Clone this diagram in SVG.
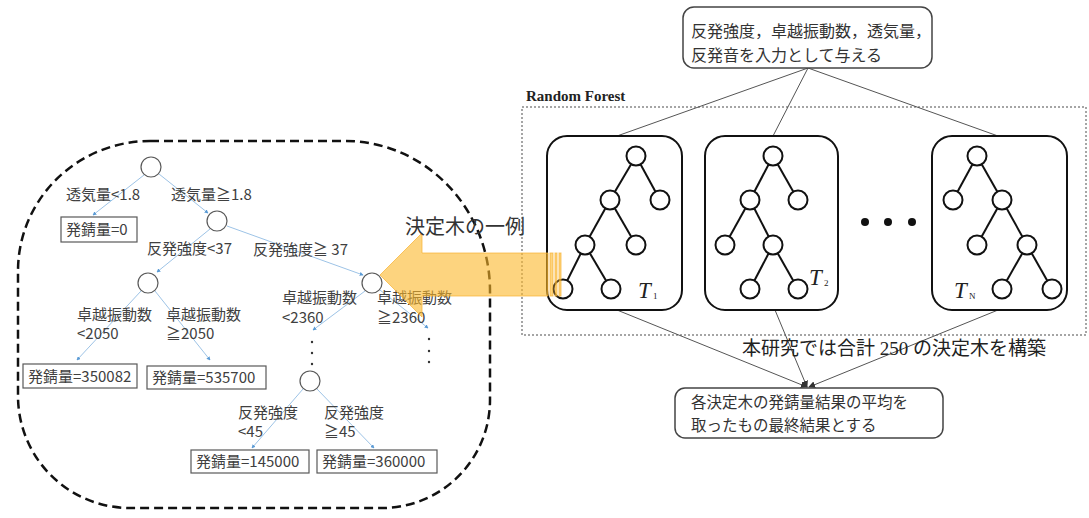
<svg xmlns="http://www.w3.org/2000/svg" width="1089" height="518" viewBox="0 0 1089 518">
<style>
.lt{font-family:"Noto Sans CJK JP","Noto Sans",sans-serif;font-size:15px;fill:#404040}
.rt{font-family:"Noto Sans CJK JP","Noto Sans",sans-serif;font-size:16px;fill:#333}
.be{stroke:#9DC3E6;stroke-width:1;fill:none;marker-end:url(#ba)}
.ln{fill:#fff;stroke:#595959;stroke-width:1.2}
.lb{fill:#fff;stroke:#595959;stroke-width:1.2}
.tc{fill:#fff;stroke:#111;stroke-width:2}
.te{stroke:#111;stroke-width:2}
.tb{fill:#fff;stroke:#111;stroke-width:2}
.cn{stroke:#555;stroke-width:1;fill:none}
.ti{font-family:"Liberation Serif",serif;font-style:italic;font-size:23px;fill:#222}
.ts{font-family:"Liberation Serif",serif;font-size:9px;fill:#222}
</style>
<defs>
<marker id="ba" viewBox="0 0 6 6" refX="5" refY="3" markerWidth="4" markerHeight="4" orient="auto"><path d="M0,0 L6,3 L0,6 Z" fill="#5B9BD5"/></marker>
<marker id="ka" viewBox="0 0 8 8" refX="7" refY="4" markerWidth="7" markerHeight="7" orient="auto"><path d="M0,0 L8,4 L0,8 Z" fill="#333"/></marker>
</defs>

<!-- dashed boundary of example tree -->
<path id="boundary" d="M150 141 H345 A145 150 0 0 1 490 291 V400 A108 108 0 0 1 382 508 H130 A112 112 0 0 1 18 396 V271 A132 130 0 0 1 150 141 Z" fill="none" stroke="#111" stroke-width="2.5" stroke-dasharray="9 5"/>

<!-- right: random forest frame -->
<g id="rf-frame">
<rect x="522" y="107" width="564" height="228" fill="none" stroke="#888" stroke-width="1.5" stroke-dasharray="2 2"/>
<text x="526" y="101" font-family="Liberation Serif,serif" font-size="15" font-weight="bold" fill="#222">Random Forest</text>
</g>

<g id="connectors">
<!-- left example tree edges -->
<line class="be" x1="144" y1="175" x2="93" y2="215"/>
<line class="be" x1="159" y1="174" x2="208" y2="213"/>
<line class="be" x1="210" y1="229" x2="157" y2="272"/>
<line class="be" x1="227" y1="226" x2="363" y2="275"/>
<line class="be" x1="141" y1="291" x2="77" y2="360"/>
<line class="be" x1="155" y1="291" x2="210" y2="360"/>
<line class="be" x1="365" y1="291" x2="313" y2="330"/>
<line class="be" x1="380" y1="290" x2="428" y2="328"/>
<line class="be" x1="303" y1="389" x2="252" y2="448"/>
<line class="be" x1="317" y1="389" x2="374" y2="448"/>
<!-- right side -->
<line class="cn" x1="808" y1="68" x2="617" y2="136"/>
<line class="cn" x1="808" y1="68" x2="773" y2="136"/>
<line class="cn" x1="808" y1="68" x2="998" y2="136"/>
<line class="cn" x1="617" y1="310" x2="807" y2="387" marker-end="url(#ka)"/>
<line class="cn" x1="775" y1="310" x2="807" y2="387" marker-end="url(#ka)"/>
<line class="cn" x1="998" y1="310" x2="809" y2="387" marker-end="url(#ka)"/>
</g>

<!-- dots for continuation -->
<g id="cont-dots" fill="#333">
<circle cx="312" cy="342" r="1.2"/><circle cx="312" cy="353" r="1.2"/><circle cx="312" cy="364" r="1.2"/>
<circle cx="429" cy="339" r="1.2"/><circle cx="429" cy="351" r="1.2"/><circle cx="429" cy="362" r="1.2"/>
</g>

<!-- left tree nodes -->
<g id="n-root"><circle class="ln" cx="151" cy="167" r="10"/></g>
<g id="n-2"><circle class="ln" cx="217" cy="221" r="10"/></g>
<g id="n-3"><circle class="ln" cx="148" cy="283" r="10"/></g>
<g id="n-4"><circle class="ln" cx="372" cy="283" r="10"/></g>
<g id="n-5"><circle class="ln" cx="310" cy="381" r="10"/></g>

<g id="leaf-0"><rect class="lb" x="61" y="217" width="76" height="25"/><text class="lt" x="66" y="235">発錆量=0</text></g>
<g id="leaf-350082"><rect class="lb" x="23" y="364" width="114" height="24"/><text class="lt" x="28" y="382">発錆量=350082</text></g>
<g id="leaf-535700"><rect class="lb" x="147" y="366" width="119" height="23"/><text class="lt" x="152" y="383">発錆量=535700</text></g>
<g id="leaf-145000"><rect class="lb" x="191" y="450" width="118" height="23"/><text class="lt" x="196" y="467">発錆量=145000</text></g>
<g id="leaf-360000"><rect class="lb" x="317" y="450" width="120" height="23"/><text class="lt" x="322" y="467">発錆量=360000</text></g>

<g id="edge-labels">
<text class="lt" x="66" y="200">透気量&lt;1.8</text>
<text class="lt" x="171" y="200">透気量≧1.8</text>
<text class="lt" x="147" y="254">反発強度&lt;37</text>
<text class="lt" x="253" y="255">反発強度≧ 37</text>
<text class="lt" x="77" y="320">卓越振動数</text>
<text class="lt" x="77" y="339">&lt;2050</text>
<text class="lt" x="166" y="320">卓越振動数</text>
<text class="lt" x="166" y="339">≧2050</text>
<text class="lt" x="282" y="303">卓越振動数</text>
<text class="lt" x="282" y="323">&lt;2360</text>
<text class="lt" x="377" y="303">卓越振動数</text>
<text class="lt" x="377" y="323">≧2360</text>
<text class="lt" x="238" y="418">反発強度</text>
<text class="lt" x="238" y="437">&lt;45</text>
<text class="lt" x="324" y="418">反発強度</text>
<text class="lt" x="324" y="437">≧45</text>
</g>

<!-- top input box -->
<g id="input-box">
<rect x="683" y="7" width="249" height="61" rx="11" fill="#fff" stroke="#444" stroke-width="1.5"/>
<text class="rt" x="691" y="37">反発強度，卓越振動数，透気量，</text>
<text class="rt" x="691" y="61">反発音を入力として与える</text>
</g>

<!-- T1 -->
<g id="tree-T1">
<rect class="tb" x="547" y="136" width="135" height="174" rx="20"/>
<line class="te" x1="636" y1="156" x2="610" y2="200"/><line class="te" x1="636" y1="156" x2="660" y2="200"/>
<line class="te" x1="610" y1="200" x2="585" y2="245"/><line class="te" x1="610" y1="200" x2="636" y2="245"/>
<line class="te" x1="585" y1="245" x2="563" y2="289"/><line class="te" x1="585" y1="245" x2="611" y2="289"/>
<circle class="tc" cx="636" cy="156" r="9.5"/><circle class="tc" cx="610" cy="200" r="9.5"/><circle class="tc" cx="660" cy="200" r="9.5"/>
<circle class="tc" cx="585" cy="245" r="9.5"/><circle class="tc" cx="636" cy="245" r="9.5"/>
<circle class="tc" cx="563" cy="289" r="9.5"/><circle class="tc" cx="611" cy="289" r="9.5"/>
<text class="ti" x="638" y="298">T</text><text class="ts" x="653" y="299">1</text>
</g>

<!-- T2 -->
<g id="tree-T2">
<rect class="tb" x="705" y="136" width="133" height="174" rx="20"/>
<line class="te" x1="773" y1="156" x2="750" y2="200"/><line class="te" x1="773" y1="156" x2="798" y2="200"/>
<line class="te" x1="750" y1="200" x2="725" y2="245"/><line class="te" x1="750" y1="200" x2="773" y2="245"/>
<line class="te" x1="773" y1="245" x2="750" y2="289"/><line class="te" x1="773" y1="245" x2="798" y2="289"/>
<circle class="tc" cx="773" cy="156" r="9.5"/><circle class="tc" cx="750" cy="200" r="9.5"/><circle class="tc" cx="798" cy="200" r="9.5"/>
<circle class="tc" cx="725" cy="245" r="9.5"/><circle class="tc" cx="773" cy="245" r="9.5"/>
<circle class="tc" cx="750" cy="289" r="9.5"/><circle class="tc" cx="798" cy="289" r="9.5"/>
<text class="ti" x="809" y="285">T</text><text class="ts" x="824" y="286">2</text>
</g>

<g id="ellipsis" fill="#111">
<circle cx="865" cy="222" r="4"/><circle cx="888" cy="222" r="4"/><circle cx="912" cy="222" r="4"/>
</g>

<!-- TN -->
<g id="tree-TN">
<rect class="tb" x="932" y="136" width="135" height="174" rx="20"/>
<line class="te" x1="977" y1="156" x2="953" y2="200"/><line class="te" x1="977" y1="156" x2="1002" y2="200"/>
<line class="te" x1="1002" y1="200" x2="977" y2="245"/><line class="te" x1="1002" y1="200" x2="1027" y2="245"/>
<line class="te" x1="1027" y1="245" x2="1002" y2="289"/><line class="te" x1="1027" y1="245" x2="1052" y2="289"/>
<circle class="tc" cx="977" cy="156" r="9.5"/><circle class="tc" cx="953" cy="200" r="9.5"/><circle class="tc" cx="1002" cy="200" r="9.5"/>
<circle class="tc" cx="977" cy="245" r="9.5"/><circle class="tc" cx="1027" cy="245" r="9.5"/>
<circle class="tc" cx="1002" cy="289" r="9.5"/><circle class="tc" cx="1052" cy="289" r="9.5"/>
<text class="ti" x="954" y="298">T</text><text class="ts" x="969" y="299">N</text>
</g>

<!-- caption -->
<text id="caption" x="742" y="355" font-family="Liberation Serif,Noto Sans CJK JP,serif" font-size="19" fill="#222">本研究では合計 250 の決定木を構築</text>

<!-- output box -->
<g id="output-box">
<rect x="675" y="388" width="268" height="50" rx="10" fill="#fff" stroke="#444" stroke-width="1.5"/>
<text x="691" y="408" font-family="Noto Sans CJK JP,Noto Sans,sans-serif" font-size="15.5" fill="#333">各決定木の発錆量結果の平均を</text>
<text x="691" y="431" font-family="Noto Sans CJK JP,Noto Sans,sans-serif" font-size="15.5" fill="#333">取ったもの最終結果とする</text>
</g>

<!-- big orange arrow -->
<g id="big-arrow" fill="#FBB829" fill-opacity="0.6" stroke="#F6B030" stroke-opacity="0.7" stroke-width="1">
<path d="M380 275 L422 233 L422 253 L548 253 L548 296 L422 296 L422 317 Z"/>
<rect x="550" y="253" width="3" height="43"/>
<rect x="555" y="253" width="2" height="43"/>
<rect x="559" y="253" width="2" height="43"/>
</g>

<text id="example-label" x="405" y="234" font-family="Noto Sans CJK JP,sans-serif" font-size="20" fill="#333">決定木の一例</text>
</svg>
